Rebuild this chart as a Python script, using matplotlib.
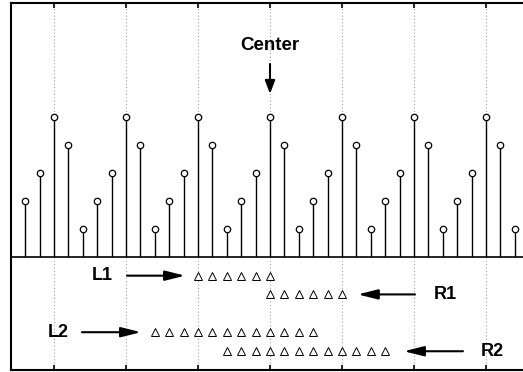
import numpy as np
import matplotlib.pyplot as plt

plt.rcParams['font.family'] = ['Liberation Sans', 'DejaVu Sans']

# stem samples (index, height)
n = list(range(1, 36))
h = [2, 3, 5, 4, 1, 2, 3, 5, 4, 1, 2, 3, 5, 4, 1, 2, 3, 5, 4, 1,
     2, 3, 5, 4, 1, 2, 3, 5, 4, 1, 2, 3, 5, 4, 1]

grid_x = [3, 8, 13, 18, 23, 28, 33]

# triangle rows: name, first index, last index
row_names = ['L1', 'R1', 'L2', 'R2']
row_start = [13, 18, 10, 15]
row_end = [18, 23, 21, 26]
row_y = [-0.66, -1.33, -2.68, -3.36]

fig = plt.figure(figsize=(5.23, 3.72), dpi=100)
ax = fig.add_axes([10.8 / 523, 2 / 372, 1 - 10.8 / 523, 1 - 5 / 372])
ax.set_xlim(0, (523 - 10.8) / 14.4)
ax.set_ylim(-4.03, 9.08)

for gx in grid_x:
    ax.axvline(gx, color='0.55', ls=(0, (1, 2.5)), lw=0.7, zorder=1)

ax.vlines(n, 0, h, color='black', lw=1.0, zorder=2)
ax.plot(n, h, 'o', ms=4.6, mfc='white', mec='black', mew=0.9, zorder=3)
ax.axhline(0, color='black', lw=1.2, zorder=2)

for name, s, e, y in zip(row_names, row_start, row_end, row_y):
    xs = np.arange(s, e + 1)
    ax.plot(xs, [y] * len(xs), '^', ms=6, mfc='white', mec='black', mew=0.7, zorder=3)

arrow_h = dict(arrowstyle='-|>,head_length=1.2,head_width=0.3', color='black', lw=1.5,
               shrinkA=0, shrinkB=0)
arrow_v = dict(arrowstyle='-|>,head_length=0.8,head_width=0.3', color='black', lw=1.5,
               shrinkA=0, shrinkB=0)
lbl = dict(fontsize=13, fontweight='bold', ha='center', va='center')

ax.annotate('', xy=(18, 5.83), xytext=(18, 6.9), arrowprops=arrow_v)
ax.text(18, 7.55, 'Center', fontsize=13.5, fontweight='bold', ha='center', va='center')

ax.annotate('', xy=(12.1, row_y[0]), xytext=(8.07, row_y[0]), arrowprops=arrow_h)
ax.text(6.33, row_y[0], 'L1', **lbl)
ax.annotate('', xy=(24.1, row_y[1]), xytext=(28.07, row_y[1]), arrowprops=arrow_h)
ax.text(30.2, row_y[1], 'R1', **lbl)
ax.annotate('', xy=(9.04, row_y[2]), xytext=(4.94, row_y[2]), arrowprops=arrow_h)
ax.text(3.31, row_y[2], 'L2', **lbl)
ax.annotate('', xy=(27.3, row_y[3]), xytext=(31.4, row_y[3]), arrowprops=arrow_h)
ax.text(33.45, row_y[3], 'R2', **lbl)

ax.set_xticks(grid_x)
ax.set_yticks([])
ax.tick_params(axis='x', direction='in', length=3.5, width=1.2, top=True, bottom=True,
               labelbottom=False)
ax.spines['right'].set_visible(False)
for sp in ['left', 'top', 'bottom']:
    ax.spines[sp].set_linewidth(1.5)

fig.savefig('out.png', dpi=100)
